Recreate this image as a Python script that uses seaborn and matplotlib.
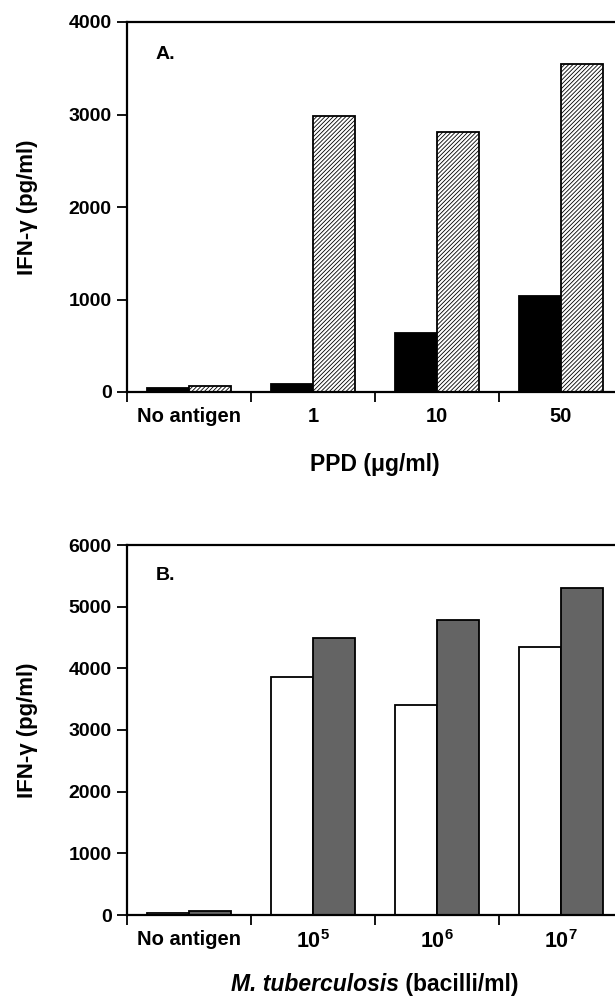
import numpy as np
import pandas as pd
import matplotlib
matplotlib.use("Agg")
import matplotlib.pyplot as plt
import seaborn as sns

# ---- data ----
ppd_categories = ["No antigen", "1", "10", "50"]
ppd_solid = [45, 85, 637, 1036]
ppd_hatched = [65, 2982, 2813, 3542]

mtb_categories = ["No antigen", "1e5", "1e6", "1e7"]
mtb_tick_labels = ["No antigen", r"$\mathbf{10^5}$", r"$\mathbf{10^6}$", r"$\mathbf{10^7}$"]
mtb_open = [35, 3860, 3400, 4340]
mtb_stippled = [65, 4500, 4780, 5300]

ppd_yticks = [0, 1000, 2000, 3000, 4000]
mtb_yticks = [0, 1000, 2000, 3000, 4000, 5000, 6000]

sns.set_theme(style="ticks")
plt.rcParams["font.family"] = ["Liberation Sans", "DejaVu Sans"]
plt.rcParams["font.weight"] = "bold"
plt.rcParams["axes.labelweight"] = "bold"
plt.rcParams["text.color"] = "black"
plt.rcParams["axes.labelcolor"] = "black"
plt.rcParams["xtick.color"] = "black"
plt.rcParams["ytick.color"] = "black"
plt.rcParams["mathtext.fontset"] = "custom"
plt.rcParams["mathtext.bf"] = "Liberation Sans:bold"
plt.rcParams["mathtext.rm"] = "Liberation Sans:bold"
plt.rcParams["hatch.linewidth"] = 0.6
plt.rcParams["hatch.color"] = "black"

fig = plt.figure(figsize=(6.15, 10), dpi=100)
axA = fig.add_axes([127 / 615, 1 - 392 / 1000, 496 / 615, 370 / 1000])
axB = fig.add_axes([127 / 615, 1 - 915 / 1000, 496 / 615, 370 / 1000])


def draw_panel(ax, cats, v1, v2, c1, c2):
    df = pd.DataFrame({
        "cat": list(cats) * 2,
        "series": ["s1"] * len(cats) + ["s2"] * len(cats),
        "value": list(v1) + list(v2),
    })
    sns.barplot(data=df, x="cat", y="value", hue="series", order=cats,
                hue_order=["s1", "s2"], palette={"s1": c1, "s2": c2},
                width=0.68, gap=0, dodge=True, edgecolor="black",
                linewidth=1.3, errorbar=None, legend=False, saturation=1,
                ax=ax)


def style_axes(ax, yticks, ticklabels):
    ax.set_xlim(-0.5, 3.5)
    ax.set_ylim(yticks[0], yticks[-1])
    ax.set_yticks(yticks)
    ax.set_yticklabels([str(t) for t in yticks], fontsize=14, fontweight="bold")
    ax.spines["right"].set_visible(False)
    for s in ["left", "bottom", "top"]:
        ax.spines[s].set_linewidth(1.6)
        ax.spines[s].set_color("black")
    ax.tick_params(axis="y", direction="out", length=7, width=1.3, pad=4,
                   colors="black")
    ax.set_xticks(range(len(ticklabels)))
    ax.set_xticklabels(ticklabels, fontsize=14.5, fontweight="bold")
    ax.tick_params(axis="x", which="major", length=0, pad=11)
    ax.set_xticks([-0.5, 0.5, 1.5, 2.5, 3.5], minor=True)
    ax.tick_params(axis="x", which="minor", length=7, width=1.3,
                   direction="out", colors="black")
    ax.grid(False)
    ax.set_ylabel("IFN-γ (pg/ml)", fontsize=16, fontweight="bold")
    ax.yaxis.set_label_coords(-0.18, 0.5)


# Panel A
draw_panel(axA, ppd_categories, ppd_solid, ppd_hatched, "black", "white")
for bar in axA.containers[1]:
    bar.set_hatch("////////")
style_axes(axA, ppd_yticks, ppd_categories)
axA.set_xlabel("PPD (μg/ml)", fontsize=16.5, fontweight="bold")
axA.xaxis.set_label_coords(0.5, -0.165)
axA.text(0.058, 0.935, "A.", transform=axA.transAxes, ha="left", va="top",
         fontsize=14, fontweight="bold")

# Panel B
draw_panel(axB, mtb_categories, mtb_open, mtb_stippled, "white", "#646464")
style_axes(axB, mtb_yticks, mtb_tick_labels)
for lab in axB.get_xticklabels()[1:]:
    lab.set_fontsize(15.5)
axB.set_xlabel("")
axB.text(0.058, 0.94, "B.", transform=axB.transAxes, ha="left", va="top",
         fontsize=14, fontweight="bold")

t1 = axB.text(0.5, -0.157, "M. tuberculosis", style="italic", fontweight="bold",
              fontsize=16.5, transform=axB.transAxes, ha="left", va="top")
t2 = axB.text(0.5, -0.157, " (bacilli/ml)", fontweight="bold",
              fontsize=16.5, transform=axB.transAxes, ha="left", va="top")
fig.canvas.draw()
r = fig.canvas.get_renderer()
w1 = t1.get_window_extent(r).width
w2 = t2.get_window_extent(r).width
bb = axB.get_window_extent(r)
cx = bb.x0 + bb.width / 2
inv = axB.transAxes.inverted()
x1 = inv.transform((cx - (w1 + w2) / 2, 0))[0]
x2 = inv.transform((cx - (w1 + w2) / 2 + w1, 0))[0]
t1.set_x(x1)
t2.set_x(x2)

fig.savefig("out.png", dpi=100)
